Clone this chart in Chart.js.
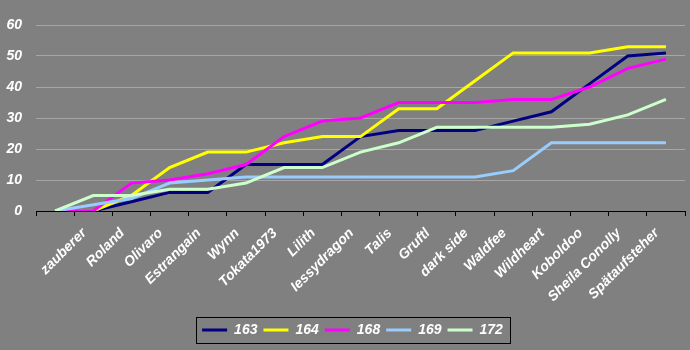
<!DOCTYPE html>
<html>
<head>
<meta charset="utf-8">
<script src="https://cdn.jsdelivr.net/npm/chart.js@4.4.1/dist/chart.umd.min.js"></script>
<style>
  html, body { margin: 0; padding: 0; background: #808080; }
  #wrap { width: 690px; height: 350px; }
</style>
</head>
<body>
<div id="wrap"><canvas id="chart" width="690" height="350"></canvas></div>
<script>
// Categories (first slot is the empty start point)
const players = ['', 'zauberer', 'Roland', 'Olivaro', 'Estrangain', 'Wynn', 'Tokata1973', 'Lilith', 'Iessydragon', 'Talis', 'Gruftl', 'dark side', 'Waldfee', 'Wildheart', 'Koboldoo', 'Sheila Conolly', 'Spätaufsteher'];

// Running totals per series
const s163 = [0, 0, 3, 6, 6, 15, 15, 15, 24, 26, 26, 26, 29, 32, 41, 50, 51];
const s164 = [0, 0, 5, 14, 19, 19, 22, 24, 24, 33, 33, 42, 51, 51, 51, 53, 53];
const s168 = [0, 0, 9, 10, 12, 15, 24, 29, 30, 35, 35, 35, 36, 36, 40, 46, 49];
const s169 = [0, 2, 4, 9, 10, 11, 11, 11, 11, 11, 11, 11, 13, 22, 22, 22, 22];
const s172 = [0, 5, 5, 7, 7, 9, 14, 14, 19, 22, 27, 27, 27, 27, 28, 31, 36];

const seriesNames = ['163', '164', '168', '169', '172'];
const seriesColors = ['#000080', '#ffff00', '#ff00ff', '#99ccff', '#ccffcc'];
const yTicks = [0, 10, 20, 30, 40, 50, 60];

const seriesData = [s163, s164, s168, s169, s172];

Chart.defaults.color = '#ffffff';
Chart.defaults.font = { family: "'Liberation Sans', Arial, sans-serif", size: 14, weight: 'bold', style: 'italic' };

// frame around the legend, like the old Excel look
const legendFrame = {
    id: 'legendFrame',
    afterLayout(chart) {
        // nudge the legend a bit to the right
        chart.legend.left += 10;
        chart.legend.right += 10;
    },
    afterDraw(chart) {
        const boxes = chart.legend.legendHitBoxes;
        if (!boxes || !boxes.length) return;
        const l = Math.min(...boxes.map(b => b.left)) - 6;
        const r = Math.max(...boxes.map(b => b.left + b.width)) + 7;
        const mid = boxes[0].top + boxes[0].height / 2;
        const ctx = chart.ctx;
        ctx.save();
        ctx.strokeStyle = '#000000';
        ctx.lineWidth = 1;
        ctx.strokeRect(Math.round(l) + 0.5, Math.round(mid - 13) + 0.5, Math.round(r - l), 26);
        ctx.restore();
    }
};

const ctx = document.getElementById('chart').getContext('2d');
new Chart(ctx, {
    type: 'line',
    data: {
        labels: players,
        datasets: seriesNames.map((name, i) => ({
            label: name,
            data: seriesData[i],
            borderColor: seriesColors[i],
            backgroundColor: seriesColors[i],
            borderWidth: 3,
            pointRadius: 0,
            tension: 0,
            order: seriesNames.length - i // later series drawn on top
        }))
    },
    options: {
        responsive: false,
        animation: false,
        layout: { padding: { top: 25, right: 5, bottom: 3, left: 0 } },
        scales: {
            x: {
                offset: true,
                grid: { offset: true, drawOnChartArea: false, drawTicks: true, tickLength: 5, color: '#000000' },
                border: { display: true, color: '#000000', width: 1 },
                ticks: { minRotation: 45, maxRotation: 45, autoSkip: false, padding: 9, labelOffset: -9, color: '#ffffff' },
                afterFit: (scale) => { scale.height = 106; }
            },
            y: {
                min: 0,
                max: 60,
                afterBuildTicks: (scale) => { scale.ticks = yTicks.map(v => ({ value: v })); },
                grid: {
                    drawTicks: false,
                    color: (c) => c.tick && c.tick.value === 0 ? 'rgba(0,0,0,0)' : '#a6a6a6'
                },
                border: { display: false },
                ticks: { padding: 14, color: '#ffffff' },
                afterFit: (scale) => { scale.width = 36; }
            }
        },
        plugins: {
            legend: {
                position: 'bottom',
                labels: {
                    usePointStyle: true,
                    pointStyle: 'line',
                    pointStyleWidth: 25,
                    padding: 6,
                    color: '#ffffff',
                    sort: (a, b) => a.datasetIndex - b.datasetIndex
                }
            },
            tooltip: { enabled: false }
        }
    },
    plugins: [legendFrame]
});
</script>
</body>
</html>
